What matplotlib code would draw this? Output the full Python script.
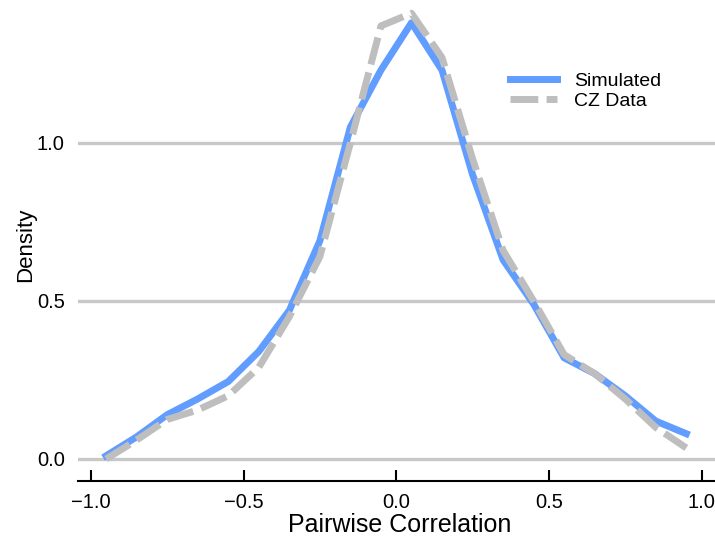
import numpy as np
import matplotlib
matplotlib.use('Agg')
from matplotlib import pyplot as plt

plt.rcParams['font.family'] = ['Liberation Sans', 'DejaVu Sans']

# bin centres of the pairwise correlation
corr = [-0.95, -0.85, -0.75, -0.65, -0.55, -0.45, -0.35, -0.25, -0.15, -0.05,
        0.05, 0.15, 0.25, 0.35, 0.45, 0.55, 0.65, 0.75, 0.85, 0.95]
sim_density = [0.01, 0.07, 0.14, 0.19, 0.245, 0.34, 0.47, 0.69, 1.05, 1.23,
               1.38, 1.23, 0.90, 0.63, 0.49, 0.32, 0.27, 0.20, 0.12, 0.08]
cz_density = [0.0, 0.06, 0.125, 0.155, 0.20, 0.29, 0.45, 0.64, 1.0, 1.37,
              1.41, 1.27, 0.95, 0.66, 0.50, 0.33, 0.27, 0.19, 0.10, 0.035]
xticks = [-1.0, -0.5, 0.0, 0.5, 1.0]
yticks = [0.0, 0.5, 1.0]

fig = plt.figure(figsize=(7.15, 5.4), dpi=100)
ax = fig.add_axes([78/715, 59/540, 637/715, 481/540])

for y in yticks:
    ax.axhline(y, color='#C8C8C8', lw=2.4, zorder=0)

ax.plot(corr, sim_density, color='#619CFF', lw=5, label='Simulated')
ax.plot(corr, cz_density, color='#BEBEBE', lw=5, dashes=(4, 1.2),
        dash_capstyle='butt', label='CZ Data')

ax.set_xlim(-1.042, 1.044)
ax.set_ylim(-0.0696, 1.452)
ax.set_xticks(xticks)
ax.set_xticklabels(['\u22121.0', '\u22120.5', '0.0', '0.5', '1.0'])
ax.set_yticks(yticks)
ax.set_yticklabels(['0.0', '0.5', '1.0'])

for s in ['top', 'right', 'left']:
    ax.spines[s].set_visible(False)
ax.spines['bottom'].set_linewidth(1.5)
ax.tick_params(axis='x', direction='in', length=8, width=1.5, labelsize=14.5, pad=9)
ax.tick_params(axis='y', length=0, labelsize=14.5, pad=9.5)

ax.set_xlabel('Pairwise Correlation', fontsize=18, va='center')
ax.xaxis.set_label_coords(0.505, -0.0915)
ax.set_ylabel('Density', fontsize=16, va='center')
ax.yaxis.set_label_coords(-0.083, 0.49)

leg = ax.legend(loc='upper left', bbox_to_anchor=(510/715, 1 - 72/540),
                bbox_transform=fig.transFigure, frameon=False, fontsize=14,
                handlelength=2.4, handletextpad=0.9, labelspacing=0.15,
                borderpad=0, borderaxespad=0)

fig.savefig('out.png', dpi=100)
